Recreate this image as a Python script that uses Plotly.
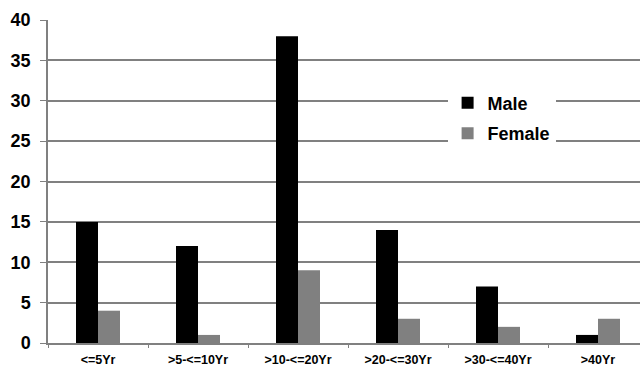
import plotly.graph_objects as go

categories = ["<=5Yr", ">5-<=10Yr", ">10-<=20Yr", ">20-<=30Yr", ">30-<=40Yr", ">40Yr"]
male = [15, 12, 38, 14, 7, 1]
female = [4, 1, 9, 3, 2, 3]

FONT = "Liberation Sans, Arial, sans-serif"

fig = go.Figure()
fig.add_trace(go.Bar(x=categories, y=male, name="Male", marker_color="#000000",
                     marker_line_width=0, legendgroup="m"))
fig.add_trace(go.Bar(x=categories, y=female, name="Female", marker_color="#808080",
                     marker_line_width=0, legendgroup="f"))

fig.update_layout(
    width=640, height=371,
    margin=dict(l=48, r=0, t=20, b=28, autoexpand=False),
    paper_bgcolor="white", plot_bgcolor="white",
    barmode="group", bargap=0.56, bargroupgap=0,
    showlegend=True,
    legend=dict(x=0.675, y=0.80, xanchor="left", yanchor="top",
                bgcolor="white", font=dict(family=FONT, size=18, color="black", weight="bold"),
                tracegroupgap=4, itemwidth=30),
    xaxis=dict(type="category", range=[-0.5, 5.42], showgrid=False, automargin=False,
               showline=True, linecolor="#808080", linewidth=1.5,
               ticks="outside", ticklen=3, tickcolor="#808080", tickson="boundaries",
               ticklabelstandoff=4,
               tickfont=dict(family=FONT, size=12.5, color="black", weight="bold")),
    yaxis=dict(range=[0, 40], dtick=5, showgrid=True, gridcolor="#808080", gridwidth=1.5,
               showline=True, linecolor="#808080", linewidth=1.5, automargin=False,
               ticks="outside", ticklen=6, tickcolor="#808080",
               zeroline=False, ticklabelstandoff=6,
               tickfont=dict(family=FONT, size=18, color="black", weight="bold")),
)

fig.write_html("out.html", config={"displayModeBar": False},
               post_script="document.body.style.margin='0';")
